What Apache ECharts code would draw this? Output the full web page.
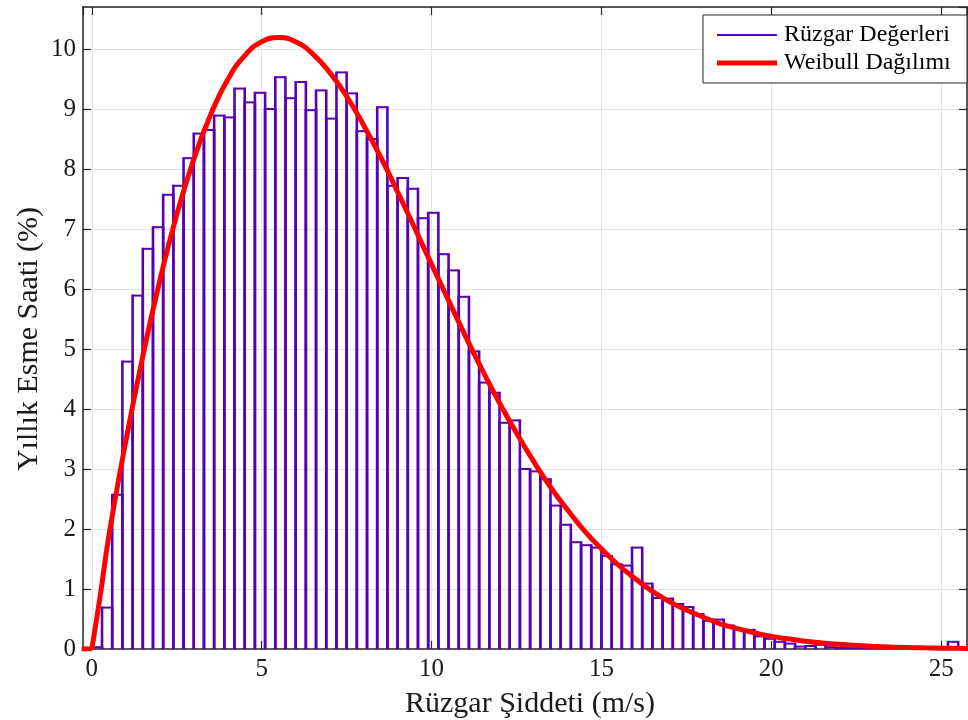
<!DOCTYPE html>
<html>
<head>
<meta charset="utf-8">
<title>Rüzgar Şiddeti Dağılımı</title>
<script src="https://cdn.jsdelivr.net/npm/echarts@6/dist/echarts.min.js"></script>
<style>
  html, body { margin: 0; padding: 0; background: #ffffff; }
  #chart { width: 968px; height: 720px; }
</style>
</head>
<body>
<div id="chart"></div>
<script>
// Histogram of yearly wind speed share (% per m/s), bins of 0.3 m/s starting at 0
const binStart = 0;
const binWidth = 0.3;
const windBinValues = [
  0.03, 0.69, 2.57, 4.79, 5.89, 6.67, 7.03, 7.57, 7.72, 8.18,
  8.59, 8.65, 8.89, 8.86, 9.34, 9.11, 9.27, 9.00, 9.53, 9.18,
  9.45, 8.98, 9.31, 8.84, 9.61, 9.26, 8.63, 8.50, 9.03, 7.72,
  7.85, 7.67, 7.18, 7.27, 6.58, 6.31, 5.87, 4.96, 4.44, 4.27,
  3.77, 3.81, 3.00, 2.96, 2.83, 2.39, 2.07, 1.78, 1.73, 1.69,
  1.55, 1.41, 1.39, 1.69, 1.09, 0.85, 0.84, 0.75, 0.70, 0.58,
  0.47, 0.49, 0.39, 0.32, 0.32, 0.21, 0.17, 0.12, 0.09, 0.04,
  0.05, 0.07, 0.03, 0.02, 0.02, 0.01, 0.02, 0.01, 0.01, 0.00,
  0.01, 0.00, 0.00, 0.00, 0.12
];

// Fitted Weibull density curve (% per m/s) sampled along the speed axis
const weibullSpeeds = [
  0, 0.25, 0.5, 1, 1.5, 2, 2.5, 3, 3.5, 4, 4.5, 5, 5.5, 6, 6.5, 7, 7.5,
  8, 8.5, 9, 9.5, 10, 10.5, 11, 11.5, 12, 12.5, 13, 13.5, 14, 14.5, 15, 15.5,
  16, 16.5, 17, 17.5, 18, 18.5, 19, 19.5, 20, 20.5, 21, 21.5, 22, 22.5, 23,
  23.5, 24, 24.5, 25, 25.5, 26
];
const weibullValues = [
  0, 0.9, 1.88, 3.46, 4.88, 6.14, 7.24, 8.16, 8.91, 9.49, 9.89, 10.12, 10.19,
  10.12, 9.92, 9.61, 9.21, 8.73, 8.20, 7.62, 7.02, 6.41, 5.81, 5.21, 4.64, 4.10,
  3.60, 3.13, 2.70, 2.32, 1.97, 1.67, 1.40, 1.17, 0.96, 0.79, 0.65, 0.53, 0.42,
  0.34, 0.27, 0.21, 0.17, 0.13, 0.10, 0.078, 0.059, 0.045, 0.034, 0.026, 0.019,
  0.014, 0.011, 0.008
];
// Zero density below calm wind
const weibullCalmSpeeds = [-0.3, 0];
const weibullCalmValues = [0, 0];

const seriesNames = ['Rüzgar Değerleri', 'Weibull Dağılımı'];
const xTitle = 'Rüzgar Şiddeti (m/s)';
const yTitle = 'Yıllık Esme Saati (%)';

const PURPLE = '#5a00b3';
const RED = '#ff0000';
const AXIS = '#262626';
const GRID = '#e2e2e2';
const FONT = '"Liberation Serif", "Times New Roman", serif';

const histData = windBinValues.map((v, i) => [
  binStart + i * binWidth,
  binStart + (i + 1) * binWidth,
  v
]);
const curveData = weibullSpeeds.map((x, i) => [x, weibullValues[i]]);
const calmData = weibullCalmSpeeds.map((x, i) => [x, weibullCalmValues[i]]);

const chart = echarts.init(document.getElementById('chart'), null, { renderer: 'canvas' });

const xRange = { min: -0.26, max: 25.76 };
const yRange = { min: 0, max: 10.7 };

const tickLabel = { fontFamily: FONT, fontSize: 25, color: '#1a1a1a' };

chart.setOption({
  animation: false,
  backgroundColor: '#ffffff',
  grid: { left: 83, right: 1, top: 7, bottom: 71, containLabel: false, outerBoundsMode: 'none' },
  xAxis: [
    {
      type: 'value', position: 'bottom', min: xRange.min, max: xRange.max, splitNumber: 5,
      axisLine: { show: true, onZero: false, lineStyle: { color: AXIS, width: 1.5 } },
      axisTick: { show: true, inside: true, length: 8, lineStyle: { color: AXIS, width: 1.2 } },
      axisLabel: Object.assign({ margin: 8, showMinLabel: false, showMaxLabel: false }, tickLabel),
      splitLine: { show: true, lineStyle: { color: GRID, width: 1 } },
      name: xTitle, nameLocation: 'middle', nameGap: 40, nameMoveOverlap: false,
      nameTextStyle: { fontFamily: FONT, fontSize: 30, color: '#1a1a1a', padding: [0, 0, 0, 10] }
    },
    {
      type: 'value', position: 'top', min: xRange.min, max: xRange.max, splitNumber: 5,
      axisLine: { show: true, onZero: false, lineStyle: { color: AXIS, width: 1.5 } },
      axisTick: { show: true, inside: true, length: 8, lineStyle: { color: AXIS, width: 1.2 } },
      axisLabel: { show: false },
      splitLine: { show: false }
    }
  ],
  yAxis: [
    {
      type: 'value', position: 'left', min: yRange.min, max: yRange.max, splitNumber: 10,
      axisLine: { show: true, onZero: false, lineStyle: { color: AXIS, width: 1.5 } },
      axisTick: { show: true, inside: true, length: 8, lineStyle: { color: AXIS, width: 1.2 } },
      axisLabel: Object.assign({ margin: 7, showMaxLabel: false }, tickLabel),
      splitLine: { show: true, lineStyle: { color: GRID, width: 1 } },
      name: yTitle, nameLocation: 'middle', nameGap: 39, nameRotate: 90, nameMoveOverlap: false,
      nameTextStyle: { fontFamily: FONT, fontSize: 30, color: '#1a1a1a', padding: [0, 22, 0, 0] }
    },
    {
      type: 'value', position: 'right', min: yRange.min, max: yRange.max, splitNumber: 10,
      axisLine: { show: true, onZero: false, lineStyle: { color: AXIS, width: 1.5 } },
      axisTick: { show: true, inside: true, length: 8, lineStyle: { color: AXIS, width: 1.2 } },
      axisLabel: { show: false },
      splitLine: { show: false }
    }
  ],
  legend: [
    {
      data: [{ name: seriesNames[0], icon: 'rect', itemStyle: { color: PURPLE } }],
      left: 717, top: 23, itemWidth: 60, itemHeight: 2, itemGap: 0,
      selectedMode: false, z: 60, padding: 0,
      textStyle: { fontFamily: FONT, fontSize: 24, color: '#000000', padding: [0, 0, 0, 2] }
    },
    {
      data: [{ name: seriesNames[1], icon: 'rect', itemStyle: { color: RED } }],
      left: 717, top: 51, itemWidth: 60, itemHeight: 5, itemGap: 0,
      selectedMode: false, z: 60, padding: 0,
      textStyle: { fontFamily: FONT, fontSize: 24, color: '#000000', padding: [0, 0, 0, 2] }
    }
  ],
  graphic: [
    {
      type: 'rect', z: 50,
      shape: { x: 703, y: 15, width: 264, height: 68 },
      style: { fill: '#ffffff', stroke: AXIS, lineWidth: 1 }
    }
  ],
  series: [
    {
      name: seriesNames[0],
      type: 'custom',
      xAxisIndex: 0, yAxisIndex: 0,
      clip: true,
      itemStyle: { color: PURPLE },
      encode: { x: [0, 1], y: 2 },
      data: histData,
      renderItem: function (params, api) {
        const top = api.coord([api.value(0), api.value(2)]);
        const base = api.coord([api.value(1), 0]);
        const x0 = top[0], x1 = base[0], y0 = top[1], y1 = base[1];
        return {
          type: 'group',
          children: [
            { type: 'line', shape: { x1: x0, y1: y0, x2: x1, y2: y0 },
              style: { stroke: PURPLE, lineWidth: 2 } },
            { type: 'line', shape: { x1: x0, y1: y0 - 1, x2: x0, y2: y1 },
              style: { stroke: PURPLE, lineWidth: 2.6 } },
            { type: 'line', shape: { x1: x1, y1: y0 - 1, x2: x1, y2: y1 },
              style: { stroke: PURPLE, lineWidth: 2.6 } }
          ]
        };
      },
      z: 2
    },
    {
      name: seriesNames[1],
      type: 'line',
      xAxisIndex: 0, yAxisIndex: 0,
      data: calmData,
      showSymbol: false,
      symbol: 'none',
      clip: true,
      lineStyle: { color: RED, width: 5 },
      itemStyle: { color: RED },
      z: 3
    },
    {
      name: seriesNames[1],
      type: 'line',
      xAxisIndex: 0, yAxisIndex: 0,
      data: curveData,
      showSymbol: false,
      symbol: 'none',
      smooth: 0.5,
      clip: true,
      lineStyle: { color: RED, width: 5 },
      itemStyle: { color: RED },
      z: 3
    }
  ]
});
</script>
</body>
</html>
